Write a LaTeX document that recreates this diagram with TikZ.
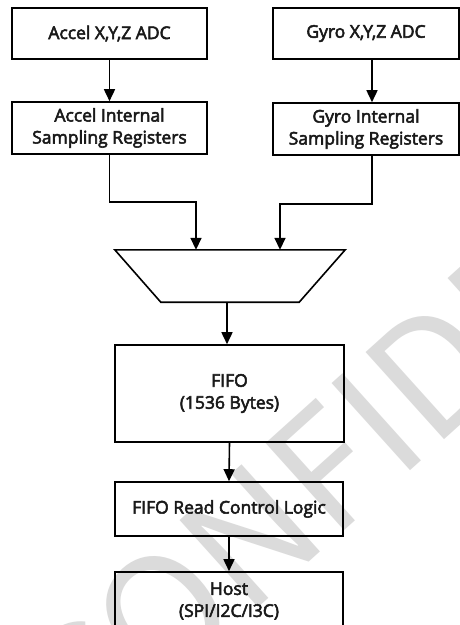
\documentclass[tikz,border=0pt]{standalone}
\usepackage{fontspec}
\setmainfont{Open Sans}[FakeBold=3]
\newfontfamily\wmfont{Noto Sans CJK SC}
\usetikzlibrary{arrows.meta,calc}
\begin{document}
\begin{tikzpicture}[x=1pt,y=-1pt,
  box/.style={draw=black, line width=1.6pt, inner sep=0pt, align=center,
    font=\fontsize{17.5}{22}\selectfont, text=black!90},
  arr/.style={line width=1.6pt, -{Triangle[length=12pt,width=11pt]}},
  ln/.style={line width=1.6pt}]
\useasboundingbox (0,0) rectangle (460,625);
\fill[white] (0,0) rectangle (460,625);
\begin{scope}
\clip (0,0) rectangle (460,625);
\node[rotate=42, anchor=base west, text=black!14, inner sep=0pt,
  font=\wmfont\fontsize{160}{160}\selectfont] (wm) at (86,763) {CONFIDENTIAL};
\end{scope}
\node[box, minimum width=195pt, minimum height=51pt] (a1) at (109.5,33.5) {Accel X,Y,Z ADC};
\node[box, minimum width=195pt, minimum height=52pt] (a2) at (109.5,128) {Accel Internal\\Sampling Registers};
\node[box, minimum width=186pt, minimum height=51pt] (g1) at (366,33.5) {Gyro X,Y,Z ADC};
\node[box, minimum width=186pt, minimum height=52pt] (g2) at (366,129) {Gyro Internal\\Sampling Registers};
\node[minimum width=230pt, minimum height=52pt, inner sep=0pt] (mux) at (230,276) {};
\draw[ln, line join=miter] (mux.north west) -- (mux.north east) -- ([xshift=-46pt]mux.south east)
  -- ([xshift=46pt]mux.south west) -- cycle;
\node[box, minimum width=229pt, minimum height=97pt] (fifo) at (229.5,393.5) {FIFO\\(1536 Bytes)};
\node[box, minimum width=228pt, minimum height=54pt] (frcl) at (229,509) {FIFO Read Control Logic};
\node[box, minimum width=228pt, minimum height=58pt] (host) at (229,601) {Host\\(SPI/I2C/I3C)};
\draw[arr] (a1.south) -- (a2.north);
\draw[arr] ([xshift=6pt]g1.south) -- ([xshift=6pt]g2.north);
\draw[arr] (a2.south) -- ++(0,47) -| ([xshift=-34pt]mux.north);
\draw[arr] ([xshift=6pt]g2.south) -- ++(0,48) -| ([xshift=50pt]mux.north);
\draw[arr] ([xshift=-3pt]mux.south) -- ([xshift=-2.5pt]fifo.north);
\draw[arr] (fifo.south) -- (frcl.north);
\draw[arr] (frcl.south) -- (host.north);
\end{tikzpicture}
\end{document}
